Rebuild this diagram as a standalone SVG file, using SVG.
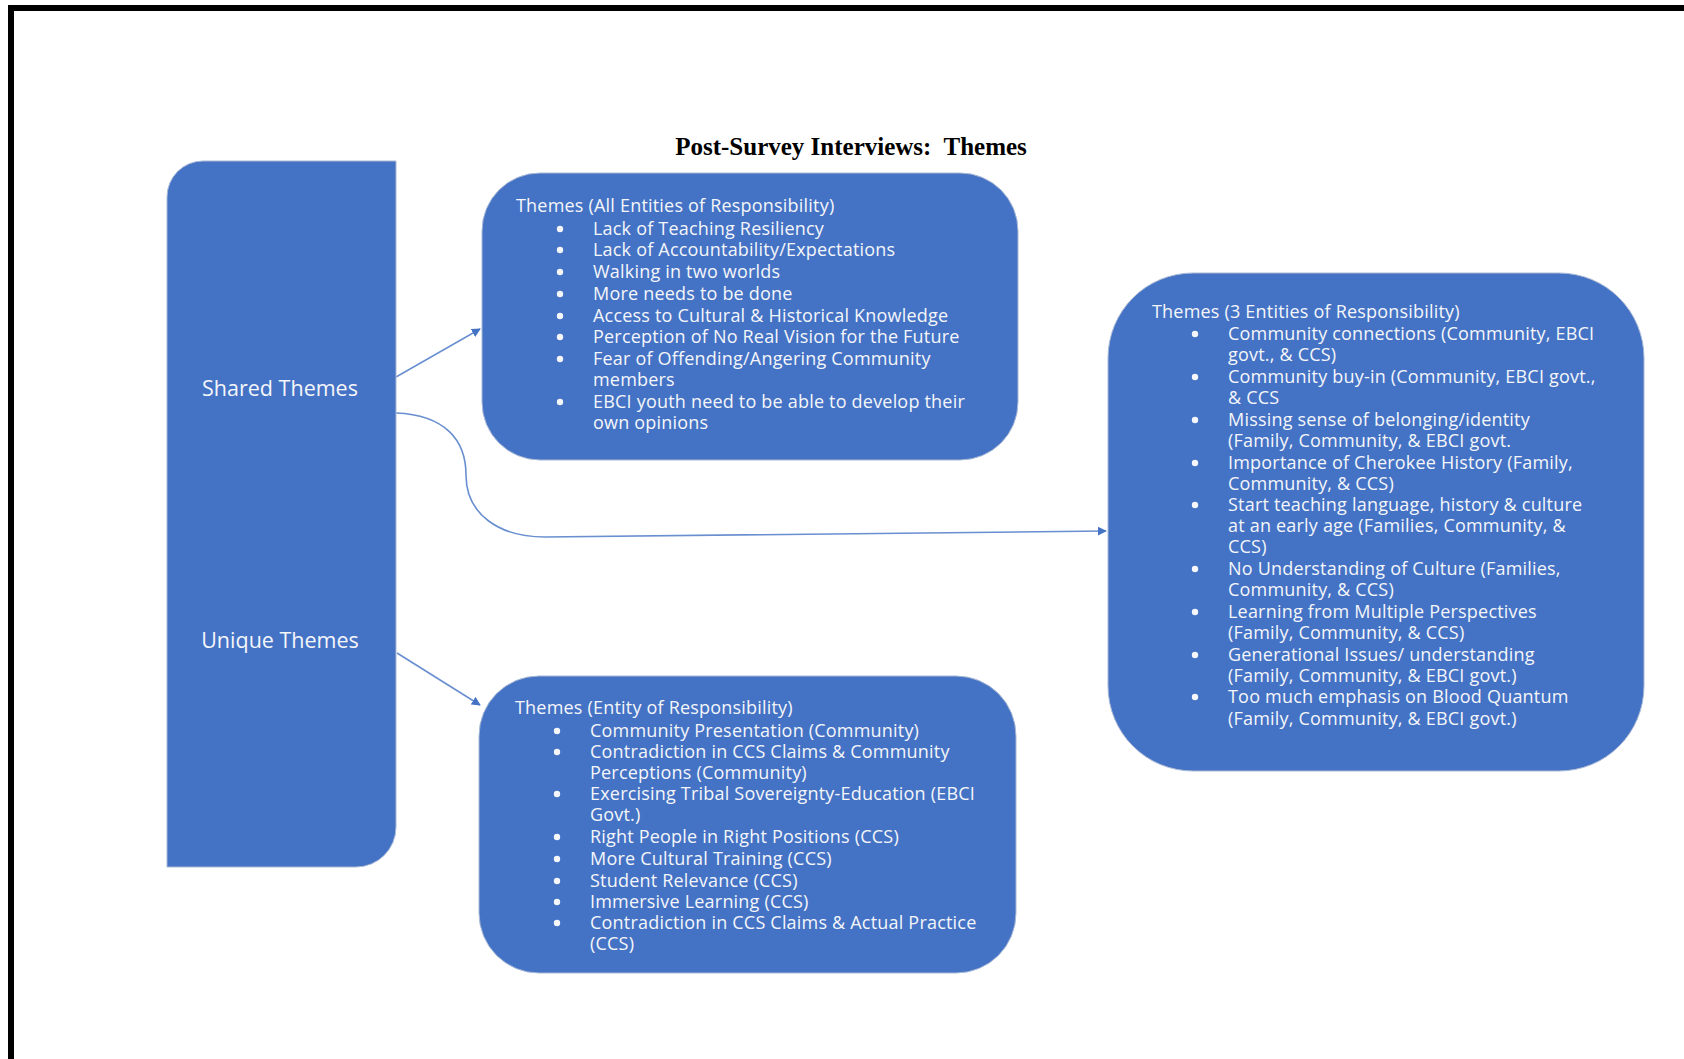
<svg xmlns="http://www.w3.org/2000/svg" width="1684" height="1059" viewBox="0 0 1684 1059">
<style>
.box{fill:#4472C4;stroke:#a9b9d6;stroke-width:1}
.t{font-family:"Open Sans",Lato,"Liberation Sans",sans-serif;font-size:18px;letter-spacing:0.2px;fill:#f4f6fa}
.big{font-family:"Open Sans",Lato,"Liberation Sans",sans-serif;font-size:21.5px;fill:#f4f6fa;text-anchor:middle}
.title{font-family:"Liberation Serif",serif;font-weight:bold;font-size:25px;fill:#000;text-anchor:middle}
.conn{fill:none;stroke:#6a8fd0;stroke-width:1.6}
.b{fill:#f4f6fa}
</style>
<defs>
<marker id="ah" viewBox="0 0 10 10" refX="9" refY="5" markerWidth="9" markerHeight="9" markerUnits="userSpaceOnUse" orient="auto">
<path d="M0,0 L10,5 L0,10 Z" fill="#4472C4"/>
</marker>
</defs>
<rect width="1684" height="1059" fill="#fff"/>
<g id="frame">
<rect x="8" y="5" width="1676" height="6" fill="#000"/>
<rect x="8" y="5" width="6" height="1054" fill="#000"/>
</g>
<text class="title" x="851" y="155">Post-Survey Interviews:&#160; Themes</text>

<g id="connectors">
<path class="conn" d="M396,377 L480,329" marker-end="url(#ah)"/>
<path class="conn" d="M396,413 C445,415 466,440 466,475 C466,515 500,537 545,537 L1106,531" marker-end="url(#ah)"/>
<path class="conn" d="M397,653 L480,705" marker-end="url(#ah)"/>
</g>

<g id="left-node">
<path class="box" d="M203,161 H396 V827 A40,40 0 0 1 356,867 H167 V197 A36,36 0 0 1 203,161 Z"/>
<text class="big" x="280" y="396">Shared Themes</text>
<text class="big" x="280" y="648">Unique Themes</text>
</g>

<g id="all-entities">
<rect class="box" x="482" y="173" width="536" height="287" rx="58"/>
<text class="t" x="516" y="212">Themes (All Entities of Responsibility)</text>
<g class="b">
<circle cx="560" cy="229" r="3.2"/><circle cx="560" cy="250" r="3.2"/><circle cx="560" cy="272" r="3.2"/><circle cx="560" cy="294" r="3.2"/><circle cx="560" cy="316" r="3.2"/><circle cx="560" cy="337" r="3.2"/><circle cx="560" cy="359" r="3.2"/><circle cx="560" cy="402" r="3.2"/>
</g>
<g class="t">
<text x="593" y="235">Lack of Teaching Resiliency</text>
<text x="593" y="256">Lack of Accountability/Expectations</text>
<text x="593" y="278">Walking in two worlds</text>
<text x="593" y="300">More needs to be done</text>
<text x="593" y="322">Access to Cultural &amp; Historical Knowledge</text>
<text x="593" y="343">Perception of No Real Vision for the Future</text>
<text x="593" y="365">Fear of Offending/Angering Community</text>
<text x="593" y="386">members</text>
<text x="593" y="408">EBCI youth need to be able to develop their</text>
<text x="593" y="429">own opinions</text>
</g>
</g>

<g id="three-entities">
<rect class="box" x="1108" y="273" width="536" height="498" rx="85"/>
<text class="t" x="1152" y="318">Themes (3 Entities of Responsibility)</text>
<g class="b">
<circle cx="1195" cy="334" r="3.2"/><circle cx="1195" cy="377" r="3.2"/><circle cx="1195" cy="420" r="3.2"/><circle cx="1195" cy="463" r="3.2"/><circle cx="1195" cy="505" r="3.2"/><circle cx="1195" cy="569" r="3.2"/><circle cx="1195" cy="612" r="3.2"/><circle cx="1195" cy="655" r="3.2"/><circle cx="1195" cy="697" r="3.2"/>
</g>
<g class="t">
<text x="1228" y="340">Community connections (Community, EBCI</text>
<text x="1228" y="361">govt., &amp; CCS)</text>
<text x="1228" y="383">Community buy-in (Community, EBCI govt.,</text>
<text x="1228" y="404">&amp; CCS</text>
<text x="1228" y="426">Missing sense of belonging/identity</text>
<text x="1228" y="447">(Family, Community, &amp; EBCI govt.</text>
<text x="1228" y="469">Importance of Cherokee History (Family,</text>
<text x="1228" y="490">Community, &amp; CCS)</text>
<text x="1228" y="511">Start teaching language, history &amp; culture</text>
<text x="1228" y="532">at an early age (Families, Community, &amp;</text>
<text x="1228" y="553">CCS)</text>
<text x="1228" y="575">No Understanding of Culture (Families,</text>
<text x="1228" y="596">Community, &amp; CCS)</text>
<text x="1228" y="618">Learning from Multiple Perspectives</text>
<text x="1228" y="639">(Family, Community, &amp; CCS)</text>
<text x="1228" y="661">Generational Issues/ understanding</text>
<text x="1228" y="682">(Family, Community, &amp; EBCI govt.)</text>
<text x="1228" y="703">Too much emphasis on Blood Quantum</text>
<text x="1228" y="725">(Family, Community, &amp; EBCI govt.)</text>
</g>
</g>

<g id="entity">
<rect class="box" x="479" y="676" width="537" height="297" rx="60"/>
<text class="t" x="515" y="714">Themes (Entity of Responsibility)</text>
<g class="b">
<circle cx="557" cy="731" r="3.2"/><circle cx="557" cy="752" r="3.2"/><circle cx="557" cy="794" r="3.2"/><circle cx="557" cy="837" r="3.2"/><circle cx="557" cy="859" r="3.2"/><circle cx="557" cy="881" r="3.2"/><circle cx="557" cy="902" r="3.2"/><circle cx="557" cy="923" r="3.2"/>
</g>
<g class="t">
<text x="590" y="737">Community Presentation (Community)</text>
<text x="590" y="758">Contradiction in CCS Claims &amp; Community</text>
<text x="590" y="779">Perceptions (Community)</text>
<text x="590" y="800">Exercising Tribal Sovereignty-Education (EBCI</text>
<text x="590" y="821">Govt.)</text>
<text x="590" y="843">Right People in Right Positions (CCS)</text>
<text x="590" y="865">More Cultural Training (CCS)</text>
<text x="590" y="887">Student Relevance (CCS)</text>
<text x="590" y="908">Immersive Learning (CCS)</text>
<text x="590" y="929">Contradiction in CCS Claims &amp; Actual Practice</text>
<text x="590" y="950">(CCS)</text>
</g>
</g>
</svg>
